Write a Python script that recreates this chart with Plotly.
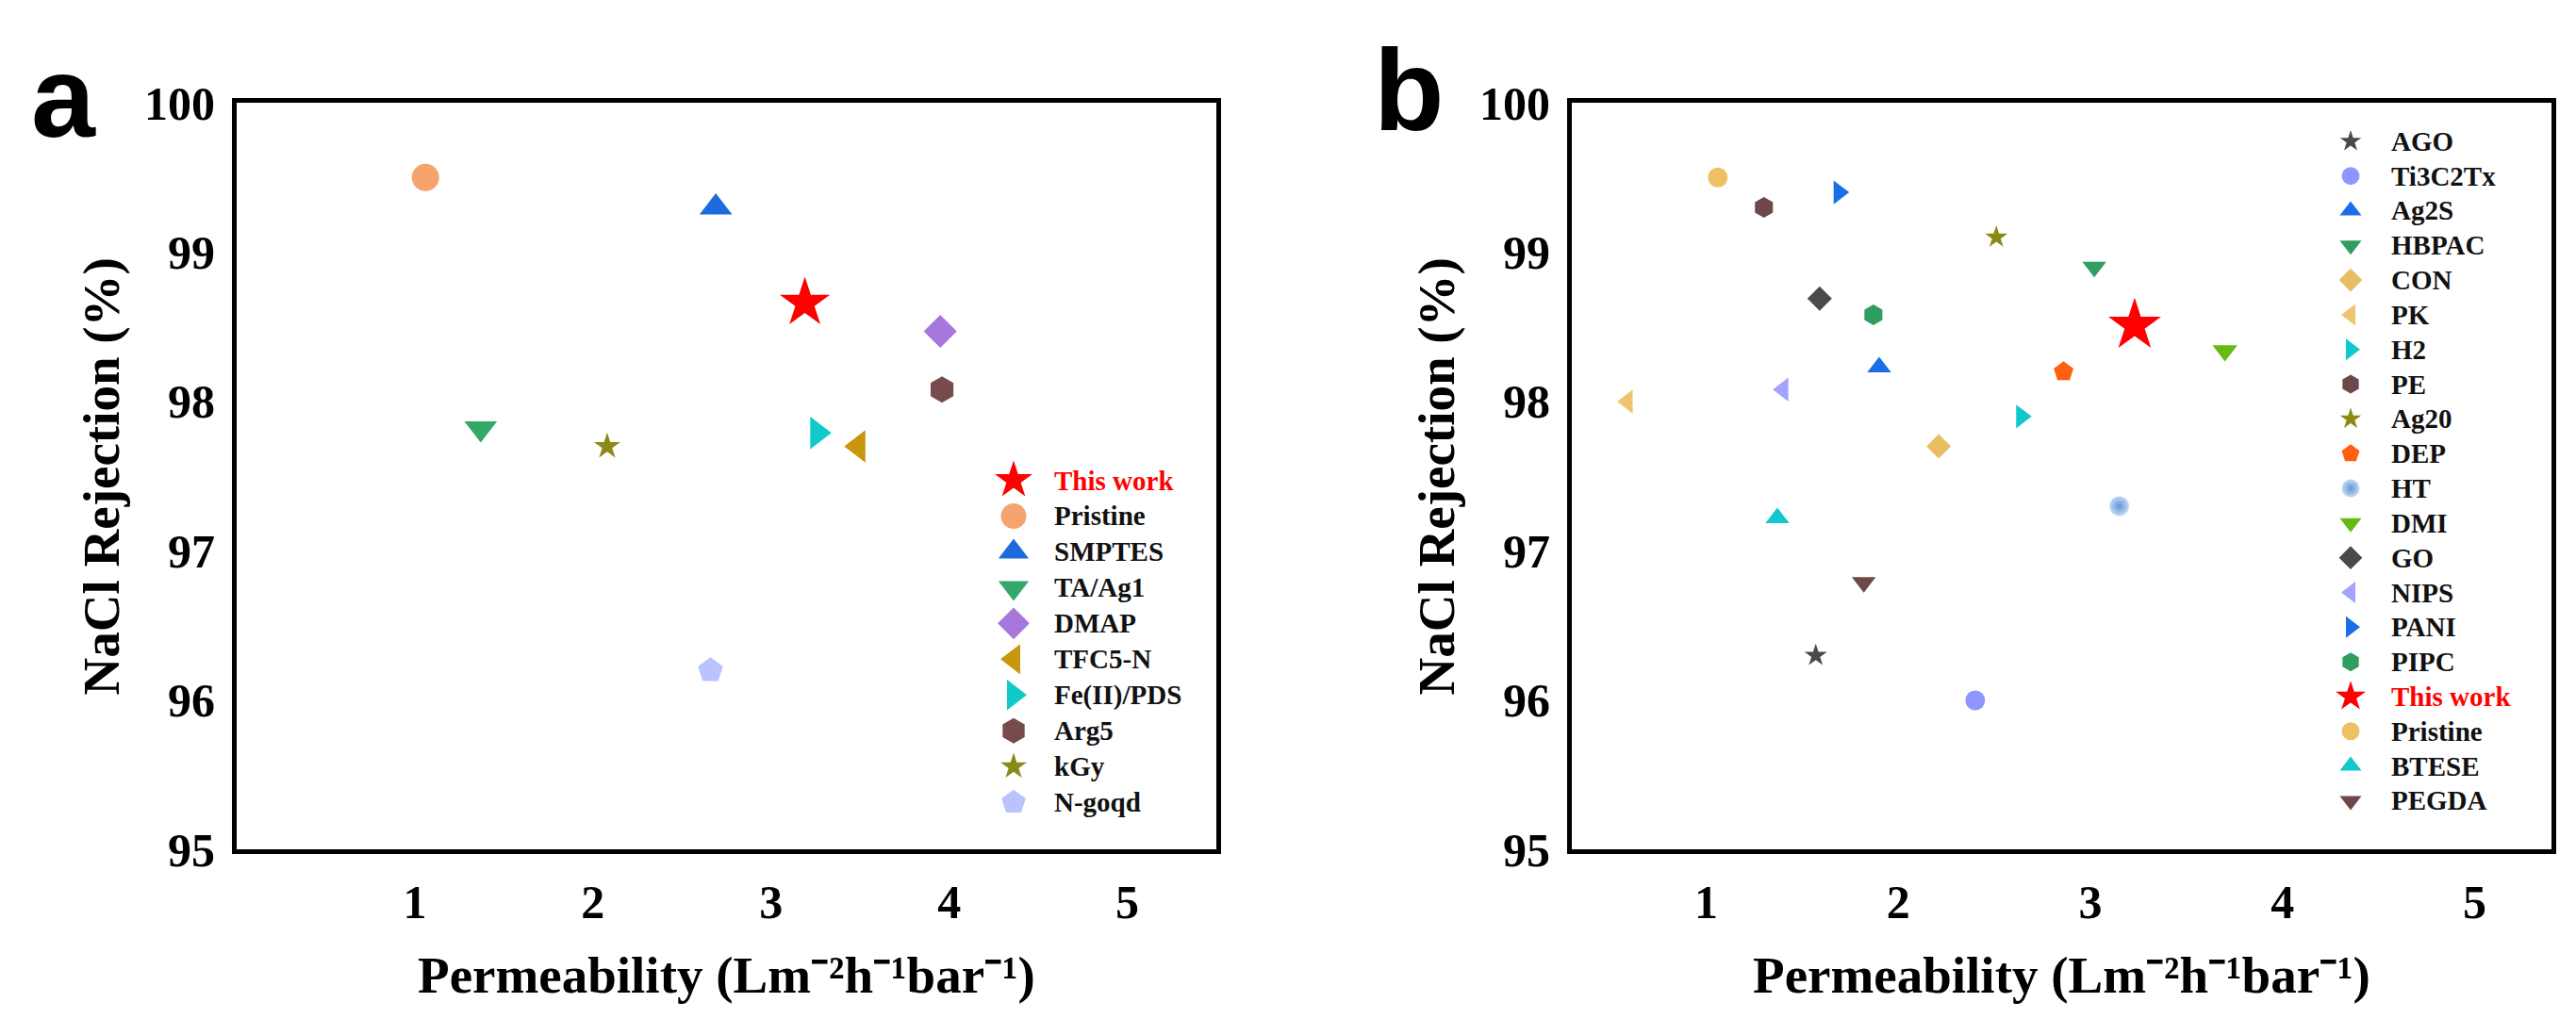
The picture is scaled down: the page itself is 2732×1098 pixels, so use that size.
import plotly.graph_objects as go

# ---------------- data ----------------
# Panel a
a_names = ["This work", "Pristine", "SMPTES", "TA/Ag1", "DMAP", "TFC5-N",
           "Fe(II)/PDS", "Arg5", "kGy", "N-goqd"]
a_perm = [3.19, 1.06, 2.69, 1.37, 3.95, 3.49, 3.26, 3.96, 2.08, 2.66]
a_rej = [98.66, 99.50, 99.30, 97.82, 98.47, 97.70, 97.79, 98.08, 97.70, 96.20]

# Panel b
b_names = ["AGO", "Ti3C2Tx", "Ag2S", "HBPAC", "CON", "PK", "H2", "PE", "Ag20",
           "DEP", "HT", "DMI", "GO", "NIPS", "PANI", "PIPC", "This work",
           "Pristine", "BTESE", "PEGDA"]
b_perm = [1.57, 2.40, 1.90, 3.02, 2.21, 0.59, 2.64, 1.30, 2.51, 2.86, 3.15,
          3.70, 1.59, 1.40, 1.69, 1.87, 3.23, 1.06, 1.37, 1.82]
b_rej = [96.30, 96.00, 98.23, 98.90, 97.70, 98.00, 97.90, 99.30, 99.10, 98.20,
         97.30, 98.34, 98.69, 98.08, 99.40, 98.58, 98.51, 99.50, 97.22, 96.79]

x_ticks = [1, 2, 3, 4, 5]
y_ticks = [95, 96, 97, 98, 99, 100]

# ---------------- styles ----------------
a_sym = ["star", "circle", "triangle-up", "triangle-down", "diamond",
         "triangle-left", "triangle-right", "hexagon", "star", "pentagon"]
a_col = ["#FF0000", "#F4A46C", "#1C6BDD", "#34A868", "#A877DD", "#C9970F",
         "#12C9C9", "#774B4B", "#8A8A18", "#B9C4FF"]
a_size = [40, 29, 30, 30, 27, 30, 30, 28, 21, 28]        # plot markers
a_lsize = [30, 27, 28, 28, 26, 28, 28, 27, 21, 27]       # legend glyphs

b_sym = ["star", "circle", "triangle-up", "triangle-down", "diamond",
         "triangle-left", "triangle-right", "hexagon", "star", "pentagon",
         "circle", "triangle-down", "diamond", "triangle-left",
         "triangle-right", "hexagon", "star", "circle", "triangle-up",
         "triangle-down"]
b_col = ["#4A4A4A", "#8F96FF", "#1A6EE8", "#2F9E5F", "#E8BE62", "#EEC46E",
         "#12C8CC", "#6E4848", "#8A8A14", "#FF6010", "#5F96D6", "#66BB11",
         "#4A4A4A", "#A3A3FF", "#1A6EE8", "#2F9E5F", "#FF0000", "#EEC062",
         "#12C8CC", "#6E4848"]
b_size = [18, 21, 22, 22, 20, 22, 22, 22, 18, 22, 21, 23, 20, 22, 22, 22,
          42, 21, 22, 22]
b_lsize = [17, 19, 20, 20, 19, 20, 20, 20, 17, 20, 19, 20, 19, 20, 20, 20,
           24, 19, 20, 20]

W, H = 2732, 1098
SERIF = "Liberation Serif"

fig = go.Figure()


def marker_dict(sym, col, size, name):
    m = dict(symbol=sym, color=col, size=size, line=dict(width=0))
    if name == "HT":
        m = dict(symbol=sym, color="#C4DAF4", size=size, line=dict(width=0),
                 gradient=dict(type="radial", color=col))
    return m


# data points
for i, n in enumerate(a_names):
    fig.add_trace(go.Scatter(
        x=[a_perm[i]], y=[a_rej[i]], mode="markers", name=n,
        marker=marker_dict(a_sym[i], a_col[i], a_size[i], n),
        xaxis="x", yaxis="y", showlegend=False))
for i, n in enumerate(b_names):
    fig.add_trace(go.Scatter(
        x=[b_perm[i]], y=[b_rej[i]], mode="markers", name=n,
        marker=marker_dict(b_sym[i], b_col[i], b_size[i], n),
        xaxis="x2", yaxis="y2", showlegend=False))

# ---------------- custom legends (pixel overlay axis) ----------------
leg_a = dict(mx=1067, tx=1108, y0=500, dy=40.0)
leg_b = dict(mx=2485, tx=2526, y0=121, dy=38.8)

annotations = []


def add_legend(names, syms, cols, sizes, spec):
    for i, n in enumerate(names):
        yy = spec["y0"] + i * spec["dy"]
        fig.add_trace(go.Scatter(
            x=[spec["mx"]], y=[yy], mode="markers", name=n,
            marker=marker_dict(syms[i], cols[i], sizes[i], n),
            xaxis="x3", yaxis="y3", showlegend=False, hoverinfo="skip"))
        annotations.append(dict(
            x=spec["tx"], y=yy, xref="x3", yref="y3", text=n,
            showarrow=False, xanchor="left", yanchor="middle",
            font=dict(family=SERIF, size=29, weight="bold",
                      color="#FF0000" if n == "This work" else "#111111")))


add_legend(a_names, a_sym, a_col, a_lsize, leg_a)
add_legend(b_names, b_sym, b_col, b_lsize, leg_b)

# panel letters
annotations.append(dict(x=59, y=72, xref="x3", yref="y3", text="a",
                        showarrow=False, xanchor="center", yanchor="middle",
                        font=dict(family="Liberation Sans", size=122,
                                  weight="bold", color="black")))
annotations.append(dict(x=1486, y=64, xref="x3", yref="y3", text="b",
                        showarrow=False, xanchor="center", yanchor="middle",
                        font=dict(family="Liberation Sans", size=122,
                                  weight="bold", color="black")))

tickfont = dict(family=SERIF, size=50, weight="bold", color="black")
titlefont = dict(family=SERIF, size=55, weight="bold", color="black")
xtitle = "Permeability (Lm\u207b\u00b2h\u207b\u00b9bar\u207b\u00b9)"
ytitle = "NaCl Rejection (%)"

y_dom = [1 - 913 / H, 1 - 78 / H]
common_x = dict(tickvals=x_ticks, showline=True, mirror=True, linecolor="black",
                linewidth=5, showgrid=False, zeroline=False, ticks="",
                tickfont=tickfont, ticklabelstandoff=8,
                title=dict(text=xtitle, font=titlefont, standoff=32))
common_y = dict(tickvals=y_ticks, range=[95, 100], showline=True, mirror=True,
                linecolor="black", linewidth=5, showgrid=False, zeroline=False,
                ticks="", tickfont=tickfont, ticklabelstandoff=8,
                title=dict(text=ytitle, font=titlefont, standoff=10),
                domain=y_dom)

fig.update_layout(
    width=W, height=H,
    margin=dict(l=0, r=0, t=0, b=0),
    paper_bgcolor="white", plot_bgcolor="rgba(0,0,0,0)",
    showlegend=False,
    xaxis=dict(common_x, domain=[243 / W, 1282 / W], range=[0, 5.5], anchor="y"),
    yaxis=dict(common_y, anchor="x"),
    xaxis2=dict(common_x, domain=[1659 / W, 2698 / W], range=[0.3, 5.4], anchor="y2"),
    yaxis2=dict(common_y, anchor="x2"),
    xaxis3=dict(domain=[0, 1], range=[0, W], visible=False, anchor="y3",
                fixedrange=True),
    yaxis3=dict(domain=[0, 1], range=[H, 0], visible=False, anchor="x3",
                fixedrange=True),
    annotations=annotations,
)

fig.write_html("out.html")
